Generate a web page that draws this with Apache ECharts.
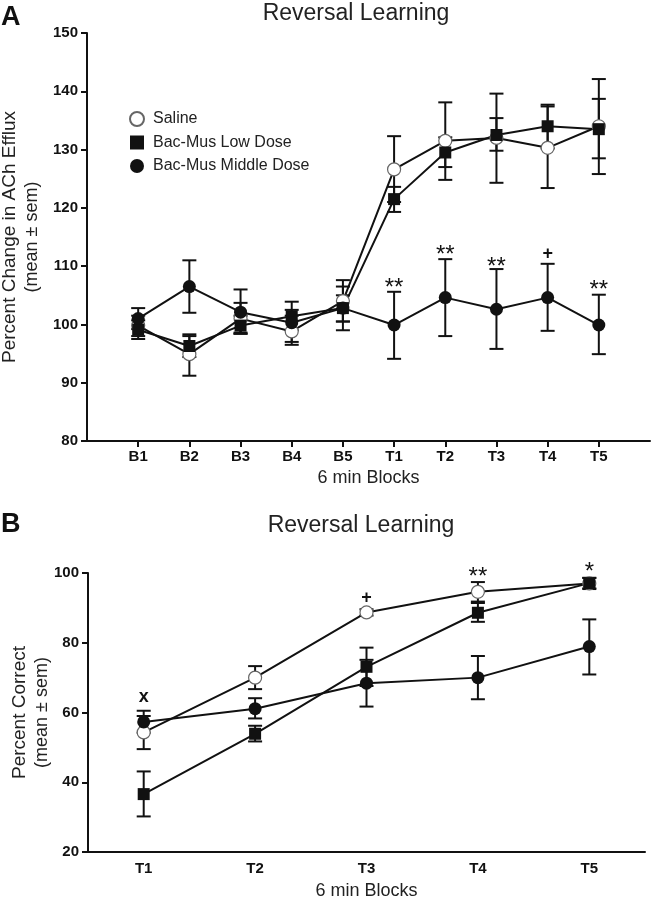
<!DOCTYPE html>
<html>
<head>
<meta charset="utf-8">
<script src="https://cdn.jsdelivr.net/npm/echarts@6/dist/echarts.min.js"></script>
<style>
html,body{margin:0;padding:0;background:#fff;}
#chart{width:651px;height:899px;}
</style>
</head>
<body>
<div id="chart"></div>
<script>
// ---------- Panel A data ----------
var catsA = ['', 'B1', 'B2', 'B3', 'B4', 'B5', 'T1', 'T2', 'T3', 'T4', 'T5', ''];
var salineA   = [99.8, 94.9, 101.0, 98.8, 104.0, 126.6, 131.5, 132.0, 130.3, 134.0];
var salineAHi = [101.5, 98.0, 103.7, 101.5, 107.6, 132.3, 138.1, 139.6, 137.4, 142.1];
var salineALo = [98.0, 91.2, 98.4, 96.5, 100.5, 121.0, 124.8, 124.3, 123.4, 125.8];
var lowA      = [99.1, 96.3, 99.8, 101.4, 102.8, 121.5, 129.5, 132.5, 134.0, 133.5];
var lowAHi    = [100.7, 98.3, 101.5, 103.9, 106.5, 123.6, 132.1, 135.4, 137.7, 138.7];
var lowALo    = [97.5, 94.4, 98.4, 99.0, 99.0, 119.3, 127.0, 129.8, 130.2, 128.5];
var midA      = [101.0, 106.5, 102.1, 100.3, 102.8, 99.9, 104.6, 102.6, 104.6, 99.9];
var midAHi    = [102.8, 111.0, 106.0, 102.5, 105.0, 105.6, 111.2, 109.5, 110.4, 105.1];
var midALo    = [99.2, 102.0, 98.6, 97.0, 100.5, 94.1, 98.0, 95.8, 98.9, 94.9];
// annotation marks: category label, text, value at mark centre
var annotA = [['T1', '**', 107.3], ['T2', '**', 112.8], ['T3', '**', 110.8], ['T4', '+', 112.1], ['T5', '**', 106.8]];
var yTicksA = [80, 150, 10];

// ---------- Panel B data ----------
var catsB = ['T1', 'T2', 'T3', 'T4', 'T5'];
var salineB   = [54.3, 70.0, 88.7, 94.6, 97.0];
var salineBHi = [59.0, 73.3, 89.6, 97.4, 98.6];
var salineBLo = [49.5, 66.7, 87.8, 91.8, 95.4];
var lowB      = [36.6, 53.9, 73.1, 88.6, 97.1];
var lowBHi    = [43.1, 56.2, 78.6, 91.4, 98.6];
var lowBLo    = [30.2, 51.7, 67.6, 86.0, 95.6];
var midB      = [57.3, 61.1, 68.4, 70.0, 78.9];
var midBHi    = [60.5, 64.1, 75.1, 76.2, 86.7];
var midBLo    = [54.2, 58.3, 61.7, 63.8, 70.9];
var annotB = [['T1', 'x', 64.3], ['T3', '+', 92.9], ['T4', '**', 100.5], ['T5', '*', 101.9]];
var yTicksB = [20, 100, 20];

var names = ['Saline', 'Bac-Mus Low Dose', 'Bac-Mus Middle Dose'];
var FONT = "'Liberation Sans', Arial, Helvetica, sans-serif";
var INK = '#111';

function ptsA(arr) { return arr.map(function (v, i) { return [catsA[i + 1], v]; }); }
function ptsB(arr) { return arr.map(function (v, i) { return [catsB[i], v]; }); }
function errA(lo, hi) { return lo.map(function (v, i) { return [i + 1, v, hi[i]]; }); }
function errB(lo, hi) { return lo.map(function (v, i) { return [i, v, hi[i]]; }); }

function errRender(params, api) {
  var x = api.value(0);
  var lo = api.coord([x, api.value(1)]);
  var hi = api.coord([x, api.value(2)]);
  var w = 7;
  var st = { stroke: INK, lineWidth: 2 };
  return {
    type: 'group',
    children: [
      { type: 'line', shape: { x1: lo[0], y1: lo[1], x2: hi[0], y2: hi[1] }, style: st },
      { type: 'line', shape: { x1: hi[0] - w, y1: hi[1], x2: hi[0] + w, y2: hi[1] }, style: st },
      { type: 'line', shape: { x1: lo[0] - w, y1: lo[1], x2: lo[0] + w, y2: lo[1] }, style: st }
    ]
  };
}
var annotData = { annA: annotA, annB: annotB };
function annotRender(params, api) {
  var p = api.coord([api.value(0), api.value(1)]);
  var t = annotData[params.seriesName][params.dataIndex][1];
  var isStar = t.indexOf('*') >= 0;
  return {
    type: 'text',
    x: p[0], y: p[1] + (isStar ? 6 : 0),
    style: { text: t, fill: INK, font: (isStar ? 'normal 24px ' : 'bold 18px ') + FONT, align: 'center', verticalAlign: 'middle' }
  };
}

function lineSeries(name, data, xi, symbol, filled) {
  return {
    name: name, type: 'line', xAxisIndex: xi, yAxisIndex: xi, data: data,
    symbol: symbol, symbolSize: symbol === 'rect' ? 12 : 13,
    lineStyle: { color: INK, width: 2 },
    itemStyle: filled ? { color: INK, borderColor: INK, borderWidth: 0 } : { color: '#fff', borderColor: '#666', borderWidth: 1.2 },
    z: 3, animation: false
  };
}
function errSeries(data, xi) {
  return { type: 'custom', xAxisIndex: xi, yAxisIndex: xi, data: data, renderItem: errRender, z: 2, animation: false, silent: true };
}

function yAxis(gi, t, nameText, gap) {
  return {
    type: 'value', gridIndex: gi, min: t[0], max: t[1], interval: t[2],
    axisLine: { show: true, lineStyle: { color: INK, width: 2 } },
    axisTick: { show: true, length: 6, lineStyle: { color: INK, width: 2 } },
    axisLabel: { color: INK, fontWeight: 'bold', fontSize: 15, fontFamily: FONT, margin: 9 },
    splitLine: { show: false },
    name: nameText, nameLocation: 'middle', nameRotate: 90, nameGap: gap, nameMoveOverlap: false,
    nameTextStyle: {
      rich: {
        a: { fontSize: 19, fontFamily: FONT, color: '#222', lineHeight: 22 },
        b: { fontSize: 18, fontFamily: FONT, color: '#222', lineHeight: 22 }
      }
    }
  };
}

var option = {
  backgroundColor: '#fff',
  animation: false,
  title: [
    { text: 'A', left: 1, top: 4, padding: 0, textStyle: { fontSize: 27, fontWeight: 'bold', color: INK, fontFamily: FONT } },
    { text: 'Reversal Learning', left: 356, top: 2, padding: 0, textAlign: 'center', textStyle: { fontSize: 23, fontWeight: 'normal', color: '#222', fontFamily: FONT } },
    { text: 'B', left: 1, top: 511, padding: 0, textStyle: { fontSize: 27, fontWeight: 'bold', color: INK, fontFamily: FONT } },
    { text: 'Reversal Learning', left: 361, top: 514, padding: 0, textAlign: 'center', textStyle: { fontSize: 23, fontWeight: 'normal', color: '#222', fontFamily: FONT } }
  ],
  legend: {
    orient: 'vertical', left: 129, top: 111, padding: 0, itemWidth: 14, itemHeight: 14, itemGap: 7.5,
    textStyle: { fontSize: 16, color: '#222', fontFamily: FONT, padding: [0, 0, 0, 4] },
    data: [
      { name: names[0], icon: 'circle' },
      { name: names[1], icon: 'rect' },
      { name: names[2], icon: 'circle' }
    ],
    selectedMode: false
  },
  grid: [
    { left: 87, top: 33, width: 563, height: 408, outerBoundsMode: 'none', containLabel: false },
    { left: 88, top: 573, width: 557, height: 279, outerBoundsMode: 'none', containLabel: false }
  ],
  xAxis: [
    {
      type: 'category', gridIndex: 0, data: catsA, boundaryGap: false,
      axisLine: { lineStyle: { color: INK, width: 2 } },
      axisTick: { length: 6, lineStyle: { color: INK, width: 2 }, interval: function (i) { return i > 0 && i < catsA.length - 1; } },
      axisLabel: { interval: 0, color: INK, fontWeight: 'bold', fontSize: 15, fontFamily: FONT, margin: 8 },
      name: '6 min Blocks', nameLocation: 'middle', nameGap: 28, nameMoveOverlap: false,
      nameTextStyle: { fontSize: 18, color: '#222', fontFamily: FONT }
    },
    {
      type: 'category', gridIndex: 1, data: catsB, boundaryGap: true,
      axisLine: { lineStyle: { color: INK, width: 2 } },
      axisTick: { length: 6, alignWithLabel: true, lineStyle: { color: INK, width: 2 } },
      axisLabel: { interval: 0, color: INK, fontWeight: 'bold', fontSize: 15, fontFamily: FONT, margin: 9 },
      name: '6 min Blocks', nameLocation: 'middle', nameGap: 30, nameMoveOverlap: false,
      nameTextStyle: { fontSize: 18, color: '#222', fontFamily: FONT }
    }
  ],
  yAxis: [
    yAxis(0, yTicksA, '{a|Percent Change in ACh Efflux}\n{b|(mean ± sem)}', 44),
    yAxis(1, yTicksB, '{a|Percent Correct}\n{b|(mean ± sem)}', 35)
  ],
  series: [
    errSeries(errA(salineALo, salineAHi), 0),
    errSeries(errA(lowALo, lowAHi), 0),
    errSeries(errA(midALo, midAHi), 0),
    lineSeries(names[0], ptsA(salineA), 0, 'circle', false),
    lineSeries(names[1], ptsA(lowA), 0, 'rect', true),
    lineSeries(names[2], ptsA(midA), 0, 'circle', true),
    errSeries(errB(salineBLo, salineBHi), 1),
    errSeries(errB(lowBLo, lowBHi), 1),
    errSeries(errB(midBLo, midBHi), 1),
    lineSeries(names[0], ptsB(salineB), 1, 'circle', false),
    lineSeries(names[1], ptsB(lowB), 1, 'rect', true),
    lineSeries(names[2], ptsB(midB), 1, 'circle', true),
    { name: 'annA', type: 'custom', xAxisIndex: 0, yAxisIndex: 0, renderItem: annotRender, z: 4, silent: true,
      data: annotA.map(function (a) { return [catsA.indexOf(a[0]), a[2]]; }) },
    { name: 'annB', type: 'custom', xAxisIndex: 1, yAxisIndex: 1, renderItem: annotRender, z: 4, silent: true,
      data: annotB.map(function (a) { return [catsB.indexOf(a[0]), a[2]]; }) }
  ]
};
var chart = echarts.init(document.getElementById('chart'), null, { renderer: 'canvas' });
chart.setOption(option);
</script>
</body>
</html>
